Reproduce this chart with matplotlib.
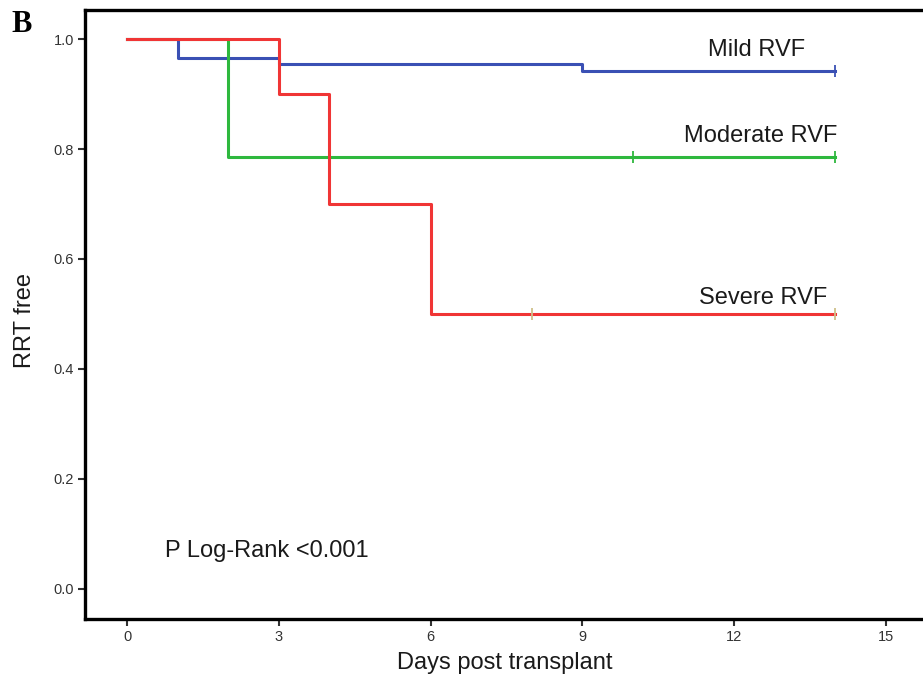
import matplotlib.pyplot as plt

plt.rcParams['font.family'] = ['Liberation Sans', 'DejaVu Sans']

# Kaplan-Meier step data (days, survival)
mild_t = [0, 1, 3, 9, 14]
mild_s = [1.0, 0.966, 0.955, 0.942, 0.942]
moderate_t = [0, 2, 14]
moderate_s = [1.0, 0.785, 0.785]
severe_t = [0, 3, 4, 6, 14]
severe_s = [1.0, 0.9, 0.7, 0.5, 0.5]

# censored observations
mild_cens_t = [14]
mild_cens_s = [0.942]
moderate_cens_t = [10, 14]
moderate_cens_s = [0.785, 0.785]
severe_cens_t = [8, 14]
severe_cens_s = [0.5, 0.5]

fig = plt.figure(figsize=(9.23, 6.78), dpi=100)
ax = fig.add_axes([85 / 923, 1 - 619 / 678, 840 / 923, 609 / 678])

ax.step(mild_t, mild_s, where='post', color='#3a50b4', lw=2.2)
ax.step(moderate_t, moderate_s, where='post', color='#2eb83e', lw=2.2)
ax.step(severe_t, severe_s, where='post', color='#f03535', lw=2.2)

ax.plot(mild_cens_t, mild_cens_s, ls='none', marker='|', ms=9, mew=1.3, color='#3a50b4')
ax.plot(moderate_cens_t, moderate_cens_s, ls='none', marker='|', ms=9, mew=1.3, color='#2eb83e')
ax.plot(severe_cens_t, severe_cens_s, ls='none', marker='|', ms=9, mew=1.3, color='#cfc08a')

txt = dict(fontsize=17, color='#1a1a1a', va='center')
ax.text(13.41, 0.98, 'Mild RVF', ha='right', **txt)
ax.text(14.03, 0.824, 'Moderate RVF', ha='right', **txt)
ax.text(13.83, 0.529, 'Severe RVF', ha='right', **txt)
ax.text(0.755, 0.069, 'P Log-Rank <0.001', ha='left', **txt)

ax.set_xlim(-0.83, 15.77)
ax.set_ylim(-0.055, 1.053)
ax.set_xticks([0, 3, 6, 9, 12, 15])
ax.set_yticks([0.0, 0.2, 0.4, 0.6, 0.8, 1.0])
ax.set_yticklabels(['0.0', '0.2', '0.4', '0.6', '0.8', '1.0'])
ax.tick_params(labelsize=10.5, length=5, width=1.5, colors='#333333', pad=3)

for side in ['left', 'bottom', 'top']:
    ax.spines[side].set_linewidth(2.4)
ax.spines['right'].set_visible(False)

ax.set_xlabel('Days post transplant', fontsize=17, color='#1a1a1a')
ax.set_ylabel('RRT free', fontsize=17, color='#1a1a1a')
ax.xaxis.set_label_coords((505 - 85) / 840, (619 - 663) / 609)
ax.yaxis.set_label_coords((25 - 85) / 840, (619 - 320) / 609)
ax.xaxis.label.set_va('center')
ax.yaxis.label.set_va('center')

fig.text(22 / 923, 1 - 24 / 678, 'B', fontsize=22, fontweight='bold',
         family='Liberation Serif', va='center', ha='center')

fig.savefig('out.png', dpi=100)
